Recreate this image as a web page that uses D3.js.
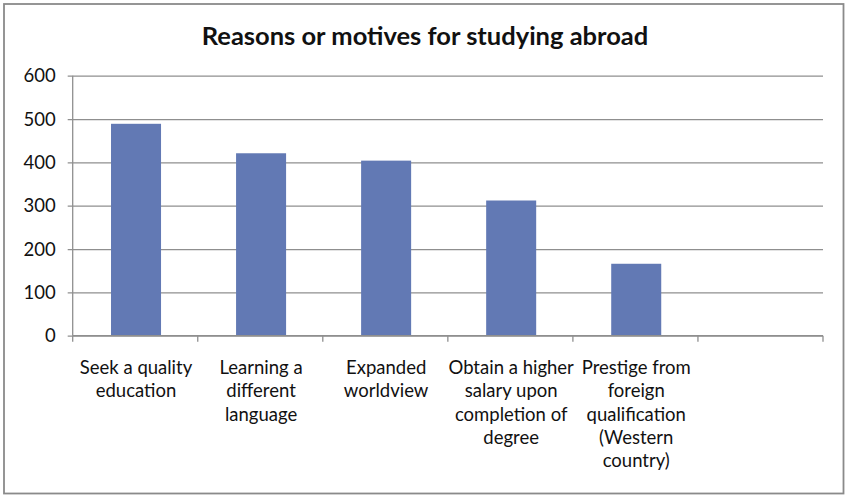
<!DOCTYPE html>
<html><head><meta charset="utf-8">
<script src="https://cdn.jsdelivr.net/npm/d3@7"></script>
<style>body{margin:0;background:#fff}svg{display:block}text{font-family:Lato,"Open Sans",sans-serif}</style>
</head><body>
<svg id="c" width="850" height="498"></svg>
<script>
const title = "Reasons or motives for studying abroad";
const categories = [
  ["Seek a quality","education"],
  ["Learning a","different","language"],
  ["Expanded","worldview"],
  ["Obtain a higher","salary upon","completion of","degree"],
  ["Prestige from","foreign","qualification","(Western","country)"],
  []
];
const values = [489, 421, 404, 312, 166, null];
const yTicks = [0, 100, 200, 300, 400, 500, 600];

const svg = d3.select("#c");
const L = 72.7, R = 823, T = 75.7, B = 335.7;
const gridColor = "#8f8f8f", barColor = "#6279b4";

svg.append("rect").attr("x",4).attr("y",4).attr("width",839.5).attr("height",489.5)
  .attr("fill","#fff").attr("stroke","#8a8a8a").attr("stroke-width",1.8);

svg.append("text").attr("x",425).attr("y",45).attr("text-anchor","middle")
  .attr("font-weight","bold").attr("font-size",25.5).attr("fill","#111").text(title);

const x = d3.scaleBand().domain(d3.range(categories.length)).range([L,R]).padding(0);
const y = d3.scaleLinear().domain([0,600]).range([B,T]);

// grid lines + y axis
const yAxis = d3.axisLeft(y).tickValues(yTicks).tickSize(-(R-L)).tickPadding(17).tickFormat(d3.format("d"));
const gy = svg.append("g").attr("transform",`translate(${L},0)`).call(yAxis);
gy.select(".domain").remove();
gy.selectAll(".tick line").attr("stroke",gridColor).attr("stroke-width",1.3).attr("x2",R-L).attr("x1",-5);
gy.selectAll(".tick text").attr("font-size",18.5).attr("fill","#111").attr("font-family","Lato").attr("dy","0.34em");

svg.append("line").attr("x1",L).attr("x2",L).attr("y1",T).attr("y2",B)
  .attr("stroke",gridColor).attr("stroke-width",1.3);

// bars
const bw = x.bandwidth()*0.4;
svg.append("g").selectAll("rect").data(values.map((v,i)=>({v,i})).filter(d=>d.v!=null))
  .join("rect")
  .attr("x",d=>x(d.i)+x.bandwidth()/2-bw/2+0.8)
  .attr("width",bw)
  .attr("y",d=>y(d.v))
  .attr("height",d=>y(0)-y(d.v))
  .attr("fill",barColor);

// bottom axis
svg.append("line").attr("x1",L).attr("x2",R).attr("y1",B).attr("y2",B)
  .attr("stroke",gridColor).attr("stroke-width",1.3);
const bounds = d3.range(categories.length+1).map(i => i<categories.length ? x(i) : R);
svg.append("g").selectAll("line").data(bounds).join("line")
  .attr("x1",d=>d).attr("x2",d=>d).attr("y1",B).attr("y2",B+6)
  .attr("stroke",gridColor).attr("stroke-width",1.3);

// category labels
const lab = svg.append("g").selectAll("text").data(categories.map((c,i)=>({c,i})))
  .join("text")
  .attr("text-anchor","middle").attr("font-size",18.5).attr("fill","#111")
  .attr("x",d=>x(d.i)+x.bandwidth()/2+0.8).attr("y",374);
lab.selectAll("tspan").data(d=>d.c.map(t=>({t,x:x(d.i)+x.bandwidth()/2+0.8})))
  .join("tspan").attr("x",d=>d.x).attr("dy",(d,j)=>j===0?0:23.3).text(d=>d.t);
</script>
</body></html>
